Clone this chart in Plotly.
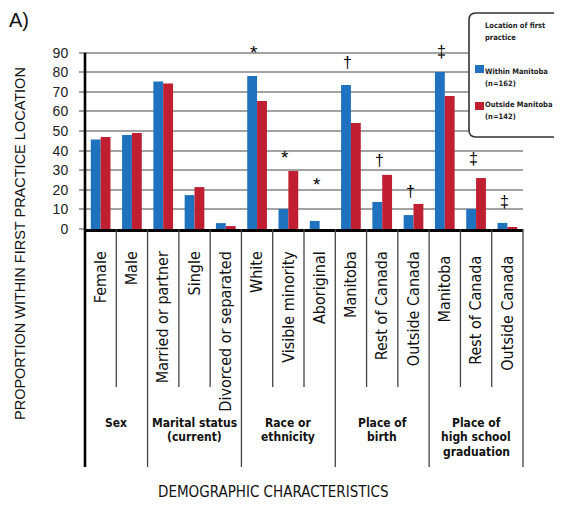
import plotly.graph_objects as go

categories = ["Female", "Male", "Married or partner", "Single", "Divorced or separated",
              "White", "Visible minority", "Aboriginal",
              "Manitoba", "Rest of Canada", "Outside Canada",
              "Manitoba ", "Rest of Canada ", "Outside Canada "]
within_manitoba = [45.6, 48.0, 75.3, 17.3, 3.0, 78.1, 10.2, 4.1, 73.5, 13.8, 7.1, 80.1, 10.2, 3.1]
outside_manitoba = [47.0, 49.0, 74.2, 21.4, 1.5, 65.3, 29.6, 0.0, 54.1, 27.6, 12.8, 67.9, 26.0, 1.0]
symbols = ["", "", "", "", "", "*", "*", "*", "†", "†", "†", "‡", "‡", "‡"]
symbol_y = [None, None, None, None, None, 91.9, 38.3, 24.5, 85.2, 34.7, 18.9, 90.4, 36.2, 13.8]
groups = ["Sex", "Marital status<br>(current)", "Race or<br>ethnicity", "Place of<br>birth",
          "Place of<br>high school<br>graduation"]
group_sizes = [2, 3, 3, 3, 3]
series_names = ["Within Manitoba<br>(n=162)", "Outside Manitoba<br>(n=142)"]
legend_title = "Location of first<br>practice"
y_ticks = [0, 10, 20, 30, 40, 50, 60, 70, 80, 90]

BLUE = "#1f72bd"
RED = "#c01f31"
COND = "DejaVu Sans Condensed, Liberation Sans Narrow, sans-serif"
SANS = "Liberation Sans, Arial, sans-serif"

OFF = 8  # page offset of the figure inside the window
W, H = 546, 493
ML, MR, MT, MB = 77, 31, 25, 272
PW = W - ML - MR
PH = H - MT - MB


def px_x(p):
    return (p - OFF - ML) / PW


def px_y(p):
    return (H - MB - (p - OFF)) / PH


fig = go.Figure()
fig.add_trace(go.Bar(x=categories, y=within_manitoba, name=series_names[0],
                     marker=dict(color=BLUE, line=dict(width=0))))
fig.add_trace(go.Bar(x=categories, y=outside_manitoba, name=series_names[1],
                     marker=dict(color=RED, line=dict(width=0))))

n = len(categories)
shapes = []
group_bounds = [0]
for s in group_sizes:
    group_bounds.append(group_bounds[-1] + s)
for k in range(1, n + 1):
    is_group = k in group_bounds
    shapes.append(dict(type="line", xref="paper", yref="paper",
                       x0=k / n, x1=k / n, y0=0, y1=px_y(467) if is_group else px_y(387),
                       line=dict(color="#444", width=1.3)))
# left axis line (plot part and table part)
shapes.append(dict(type="line", xref="paper", yref="y", x0=0, x1=0,
                   y0=0, y1=y_ticks[-1], line=dict(color="black", width=2.6)))
shapes.append(dict(type="line", xref="paper", yref="paper", x0=0, x1=0,
                   y0=0, y1=px_y(467), line=dict(color="black", width=2.6)))
# legend box
x0, x1 = px_x(469), px_x(600)
y0, y1 = px_y(137), px_y(13)
rx, ry = 7 / PW, 7 / PH
path = (f"M {x0+rx},{y1} L {x1},{y1} L {x1},{y0} L {x0+rx},{y0} "
        f"Q {x0},{y0} {x0},{y0+ry} L {x0},{y1-ry} Q {x0},{y1} {x0+rx},{y1} Z")
shapes.append(dict(type="path", xref="paper", yref="paper", path=path,
                   fillcolor="white", line=dict(color="#333", width=1.6), layer="above"))
for col, top in [(BLUE, 65), (RED, 102)]:
    shapes.append(dict(type="rect", xref="paper", yref="paper",
                       x0=px_x(475), x1=px_x(484), y0=px_y(top + 8), y1=px_y(top),
                       fillcolor=col, line=dict(width=0), layer="above"))

annotations = []
for c, s, yv in zip(categories, symbols, symbol_y):
    if s:
        annotations.append(dict(x=c, y=yv, xref="x", yref="y", text=s, showarrow=False,
                                xshift=-3, yanchor="middle",
                                yshift=-4 if s == "*" else 0,
                                font=dict(family=SANS, size=19 if s == "*" else 16,
                                          color="black")))
start = 0
for g, s in zip(groups, group_sizes):
    center = (start + s / 2) / n
    for i, line in enumerate(g.split("<br>")):
        annotations.append(dict(x=center, y=px_y(423 + 14.5 * i), xref="paper", yref="paper",
                                text="<b>" + line + "</b>",
                                showarrow=False, yanchor="middle", xanchor="center",
                                font=dict(family=COND, size=12, color="#111")))
    start += s
annotations.append(dict(x=px_x(20), y=px_y(244), xref="paper", yref="paper",
                        text="PROPORTION WITHIN FIRST PRACTICE LOCATION", textangle=-90,
                        showarrow=False, xanchor="center", yanchor="middle",
                        font=dict(family=SANS, size=14.5, color="#111")))
annotations.append(dict(x=px_x(273), y=px_y(492), xref="paper", yref="paper",
                        text="DEMOGRAPHIC CHARACTERISTICS",
                        showarrow=False, xanchor="center", yanchor="middle",
                        font=dict(family=COND, size=15, color="#111")))
annotations.append(dict(x=px_x(7), y=px_y(20), xref="paper", yref="paper",
                        text="A)", showarrow=False, xanchor="left", yanchor="middle",
                        font=dict(family=SANS, size=20, color="#111")))
legend_blocks = [(legend_title, 26), (series_names[0], 71), (series_names[1], 104)]
for text, first in legend_blocks:
    for i, line in enumerate(text.split("<br>")):
        annotations.append(dict(x=px_x(483), y=px_y(first + 12 * i), xref="paper",
                                yref="paper", text="<b>" + line + "</b>", showarrow=False,
                                xanchor="left", yanchor="middle", align="left",
                                font=dict(family=COND, size=7.5, color="#222")))

fig.update_layout(
    width=W, height=H,
    margin=dict(l=ML, r=MR, t=MT, b=MB),
    paper_bgcolor="white", plot_bgcolor="white",
    barmode="group", bargap=0.37, bargroupgap=0,
    showlegend=False,
    shapes=shapes, annotations=annotations,
    xaxis=dict(type="category", tickangle=-90, showgrid=False, zeroline=False,
               showline=True, linecolor="black", linewidth=2.6, ticks="",
               ticklabelstandoff=13,
               tickfont=dict(family=COND, size=16, color="#111")),
    yaxis=dict(range=[0, 100], tickvals=y_ticks, showgrid=True, gridcolor="#a3a3a3",
               gridwidth=1.6, zeroline=False, showline=False, ticks="outside", ticklen=5,
               tickcolor="#a3a3a3", tickwidth=1.6, ticklabelstandoff=8,
               tickfont=dict(family=SANS, size=14, color="#222")),
)

fig.write_html("out.html")
